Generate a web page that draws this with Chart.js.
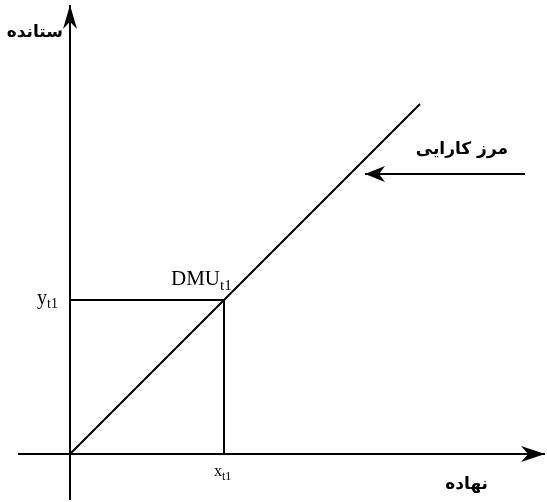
<!DOCTYPE html>
<html>
<head>
<meta charset="utf-8">
<script src="https://cdn.jsdelivr.net/npm/chart.js@4/dist/chart.umd.min.js"></script>
<style>
  html,body{margin:0;padding:0;background:#fff;}
  #wrap{width:547px;height:502px;}
</style>
</head>
<body>
<div id="wrap"><canvas id="c" width="547" height="502"></canvas></div>
<script>
// --- data (Einheiten: 1 = 100px) ---
const frontierX = [0, 3.5];
const frontierY = [0, 3.5];
const dmuX = 1.54, dmuY = 1.54;
const xAxisRange = [-0.52, 4.75];
const yAxisRange = [-0.46, 4.49];
const pointerX = [4.55, 2.95];      // Pfeil auf die Grenze
const pointerY = [2.80, 2.80];

const axisTitles = ['نهاده', 'ستانده'];
const frontierLabel = 'مرز کارایی';
const tickLabels = [['x', 't1'], ['y', 't1']];
const dmuLabel = ['DMU', 't1'];

const pts = (xs, ys) => xs.map((x,i)=>({x, y: ys[i]}));

// Pfeilspitze am letzten Punkt zeichnen
const arrowPlugin = {
  id:'arrows',
  afterDatasetsDraw(chart){
    const ctx = chart.ctx;
    chart.data.datasets.forEach((ds,i)=>{
      if(!ds.arrow) return;
      const m = chart.getDatasetMeta(i).data;
      const a = m[m.length-2], b = m[m.length-1];
      const ang = Math.atan2(b.y-a.y, b.x-a.x);
      const L = ds.arrow.len, W = ds.arrow.w;
      ctx.save();
      ctx.translate(b.x, b.y);
      ctx.rotate(ang);
      ctx.beginPath();
      ctx.moveTo(0,0);
      ctx.lineTo(-L, -W/2);
      ctx.lineTo(-L*0.7, 0);
      ctx.lineTo(-L, W/2);
      ctx.closePath();
      ctx.fillStyle = '#000';
      ctx.fill();
      ctx.restore();
    });
  }
};

// Beschriftungen
const labelPlugin = {
  id:'labels',
  afterDraw(chart){
    const ctx = chart.ctx, sx = chart.scales.x, sy = chart.scales.y;
    const px = v => sx.getPixelForValue(v), py = v => sy.getPixelForValue(v);
    ctx.save();
    ctx.fillStyle = '#000';

    // persische Texte
    ctx.font = 'bold 17px "DejaVu Sans"';
    ctx.direction = 'rtl';
    ctx.textBaseline = 'middle';
    ctx.textAlign = 'right';
    ctx.fillText(axisTitles[1], px(0)-7, py(4.21));
    ctx.fillText(frontierLabel, px(4.38), py(3.04));
    ctx.fillText(axisTitles[0], px(4.18), py(-0.31));

    // lateinische Texte
    ctx.direction = 'ltr';
    ctx.textAlign = 'left';
    ctx.textBaseline = 'alphabetic';
    const sub = (main, s, x, y, big, small) => {
      ctx.font = big + 'px "Liberation Serif"';
      ctx.fillText(main, x, y);
      const w = ctx.measureText(main).width;
      ctx.font = small + 'px "Liberation Serif"';
      ctx.fillText(s, x + w, y + big*0.22);
    };
    sub(dmuLabel[0], dmuLabel[1], px(dmuX)-53, py(dmuY)-15, 21, 15);
    sub(tickLabels[1][0], tickLabels[1][1], px(0)-33, py(dmuY)+4, 20, 14);
    sub(tickLabels[0][0], tickLabels[0][1], px(dmuX)-10, py(0)+22, 16, 12);
    ctx.restore();
  }
};

const line = {borderColor:'#000', borderWidth:2, pointRadius:0, showLine:true, fill:false, tension:0};

new Chart(document.getElementById('c'), {
  type:'scatter',
  data:{
    datasets:[
      {...line, data: pts(xAxisRange, [0,0]), arrow:{len:24, w:16}},
      {...line, data: pts([0,0], yAxisRange), arrow:{len:24, w:14}},
      {...line, data: pts(frontierX, frontierY)},
      {...line, data: pts([0, dmuX], [dmuY, dmuY])},
      {...line, data: pts([dmuX, dmuX], [dmuY, 0])},
      {...line, data: pts(pointerX, pointerY), arrow:{len:20, w:16}}
    ]
  },
  options:{
    responsive:false,
    animation:false,
    layout:{padding:0},
    plugins:{legend:{display:false}, tooltip:{enabled:false}},
    scales:{
      x:{type:'linear', min:-0.70, max:4.77, display:false},
      y:{type:'linear', min:-0.48, max:4.54, display:false}
    }
  },
  plugins:[arrowPlugin, labelPlugin]
});
</script>
</body>
</html>
